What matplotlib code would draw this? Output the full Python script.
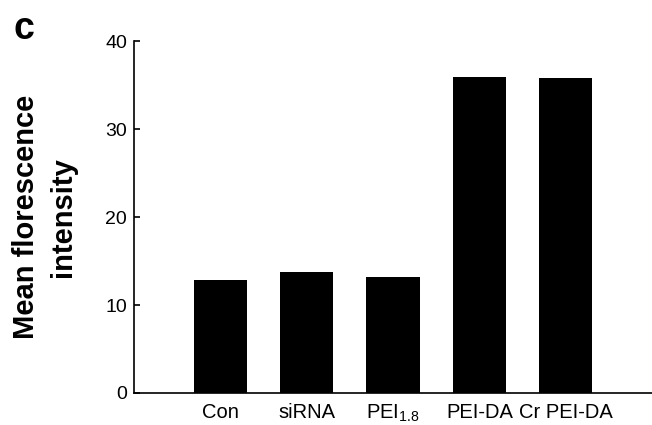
import numpy as np
import matplotlib.pyplot as plt

plt.rcParams['font.family'] = ['Liberation Sans', 'DejaVu Sans']
plt.rcParams['mathtext.fontset'] = 'custom'
plt.rcParams['mathtext.rm'] = 'Liberation Sans'
plt.rcParams['mathtext.it'] = 'Liberation Sans'

groups = ["Con", "siRNA", "PEI$_{1.8}$", "PEI-DA", "Cr PEI-DA"]
mfi = [12.8, 13.7, 13.2, 35.9, 35.8]
yticks = [0, 10, 20, 30, 40]

fig = plt.figure(figsize=(6.52, 4.25), dpi=100)
ax = fig.add_axes([0.2055, 0.0753, 0.7945, 0.8282])

x = np.arange(len(groups))
ax.bar(x, mfi, width=0.617, color="black")

ax.set_xlim(-1, 5)
ax.set_ylim(0, 40)
ax.set_yticks(yticks)
ax.set_xticks(x)
ax.set_xticklabels(groups)

ax.spines['top'].set_visible(False)
ax.spines['right'].set_visible(False)
ax.spines['left'].set_linewidth(1.2)
ax.spines['bottom'].set_linewidth(1.2)

ax.tick_params(axis='y', direction='in', length=4, width=1.2, labelsize=14, pad=5)
ax.tick_params(axis='x', length=0, labelsize=14.5, pad=7)

ax.set_ylabel("Mean florescence\nintensity", fontsize=21, fontweight='bold',
              linespacing=1.42, labelpad=20)

fig.text(0.02, 0.975, "c", fontsize=27, fontweight='bold', va='top', ha='left')

fig.savefig("out.png", dpi=100)
